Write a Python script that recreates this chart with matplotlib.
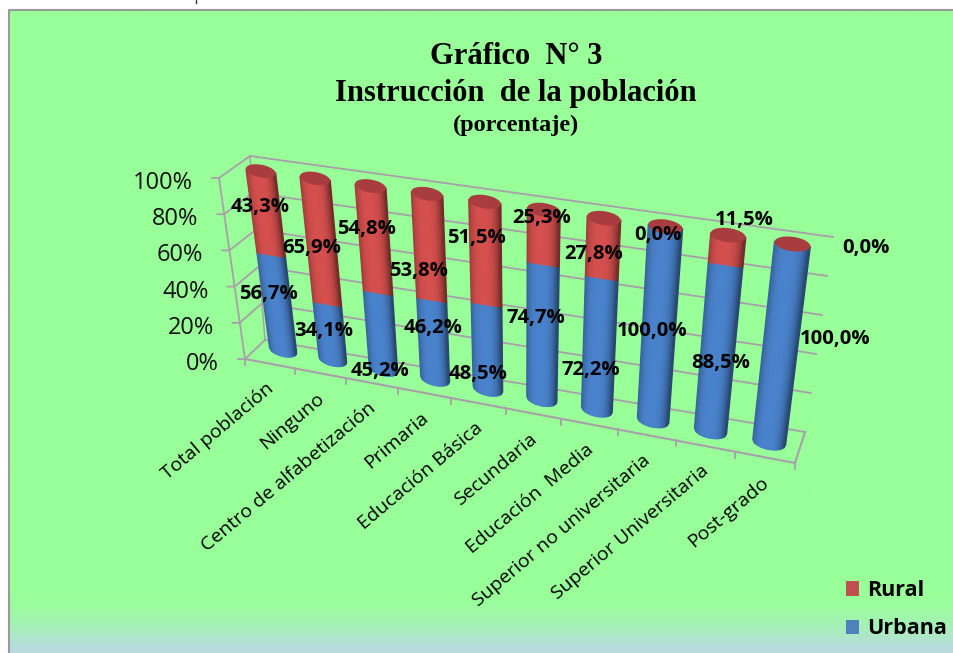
import numpy as np
import matplotlib
matplotlib.use('Agg')
import matplotlib.pyplot as plt
from matplotlib.transforms import Transform
from matplotlib.patches import Rectangle

categories = ['Total población', 'Ninguno', 'Centro de alfabetización', 'Primaria', 'Educación Básica',
              'Secundaria', 'Educación  Media', 'Superior no universitaria', 'Superior Universitaria', 'Post-grado']
urbana = [56.7, 34.1, 45.2, 46.2, 48.5, 74.7, 72.2, 100.0, 88.5, 100.0]
rural = [43.3, 65.9, 54.8, 53.8, 51.5, 25.3, 27.8, 0.0, 11.5, 0.0]
y_ticks = [0, 20, 40, 60, 80, 100]

# where the value labels sit, in pixels
urbana_label_xy = [(268, 294), (324, 331), (380, 371), (433, 328), (478, 374),
                   (536, 318), (591, 370), (652, 331), (721, 363), (835, 339)]
rural_label_xy = [(260, 207), (312, 248), (367, 229), (419, 271), (476, 238),
                  (542, 218), (594, 254), (658, 235), (744, 220), (866, 248)]
# upper right end of the category labels, as offset from the floor edge
label_offset = (-4, -16)

PERSP = 1.11
RED = np.array([208, 78, 76]) / 255
BLUE = np.array([72, 128, 200]) / 255
CAP = '#a83c3e'
GRID = '#a89fa8'


class ChartProj(Transform):
    # (category, percent) -> picture pixels, for one plane of the 3d box
    input_dims = 2
    output_dims = 2
    is_affine = False
    has_inverse = False

    def __init__(self, bl, br, tl, tr):
        super().__init__()
        self.bl, self.br, self.tl, self.tr = [np.array(p, float) for p in (bl, br, tl, tr)]

    def transform_non_affine(self, values):
        values = np.asarray(values, float)
        u = (values[:, 0] + 0.5) / 10
        u = (u / (u + (1 - u) * PERSP))[:, None]
        v = values[:, 1][:, None] / 100
        base = self.bl + (self.br - self.bl) * u
        top = self.tl + (self.tr - self.tl) * u
        return base + (top - base) * v


fig = plt.figure(figsize=(9.54, 6.53), dpi=100, facecolor='white')
ax = fig.add_axes([0, 0, 1, 1])
ax.set_xlim(0, 954)
ax.set_ylim(653, 0)
ax.set_autoscale_on(False)
ax.axis('off')

# background with the bluish fade at the bottom
grad = np.zeros((60, 2, 3))
fade = np.clip((np.linspace(0, 653, 60) - 600) / 53, 0, 1)[:, None, None] ** 1.5
grad[:] = np.array([153, 255, 153]) / 255 * (1 - fade) + np.array([184, 220, 222]) / 255 * fade
ax.imshow(grad, extent=(9, 954, 653, 10), aspect='auto', zorder=0, interpolation='bilinear')
ax.set_xlim(0, 954)
ax.set_ylim(653, 0)
ax.plot([9, 9, 954], [653, 10, 10], color='#9a9a9a', lw=1.5, zorder=1)
ax.plot([196, 196], [0, 3], color='#333333', lw=1, zorder=1)

back = ChartProj((265, 340), (805, 432), (250, 156), (833, 237))
front = ChartProj((245, 359), (795, 463), (219, 178), (825, 262))
bars = ChartProj((258.6, 345.4), (799, 447.7), (234, 167.3), (825, 248.5))

# walls and floor
for val in y_ticks:
    ax.plot([-0.5, 9.5], [val, val], transform=back + ax.transData, color=GRID, lw=1.3, zorder=2)
    p0 = front.transform(np.array([[-0.5, val]]))[0]
    p1 = back.transform(np.array([[-0.5, val]]))[0]
    ax.plot([p0[0] - 7, p0[0], p1[0]], [p0[1], p0[1], p1[1]], color=GRID, lw=1.3, zorder=2)
    ax.text(p0[0] - 26, p0[1] + 5, f'{val}%', ha='right', va='center', fontsize=17,
            family='Open Sans', color='#111111', zorder=6)
ax.plot([-0.5, -0.5], [0, 100], transform=back + ax.transData, color=GRID, lw=1.1, zorder=2)
ax.plot([-0.5, -0.5], [0, 100], transform=front + ax.transData, color=GRID, lw=1.3, zorder=2)
ax.plot([-0.5, 9.5], [0, 0], transform=front + ax.transData, color=GRID, lw=1.5, zorder=2)
p0 = front.transform(np.array([[9.5, 0]]))[0]
p1 = back.transform(np.array([[9.5, 0]]))[0]
ax.plot([p0[0], p1[0]], [p0[1], p1[1]], color=GRID, lw=1.5, zorder=2)
for i in range(11):
    p = front.transform(np.array([[i - 0.5, 0]]))[0]
    ax.plot([p[0], p[0]], [p[1], p[1] + 6], color=GRID, lw=1.3, zorder=2)

# cylinders, built from thin shaded strips
hw = 0.275
depth = 3.6
edges = np.linspace(-1, 1, 25)
bar_trans = bars + ax.transData
for i in range(len(categories)):
    # the seam shows on the front of the cylinder, so a little under the real value
    seam = urbana[i] - depth
    for s0, s1 in zip(edges[:-1], edges[1:]):
        mid = (s0 + s1) / 2
        shade = 1.02 - 0.38 * abs(mid + 0.1) ** 3
        x = [i + hw * s0, i + hw * s1, i + hw * s1, i + hw * s0]
        low0 = -depth * np.sqrt(max(0, 1 - s0 ** 2))
        low1 = -depth * np.sqrt(max(0, 1 - s1 ** 2))
        col = np.clip(BLUE * shade, 0, 1)
        top = seam if rural[i] > 0 else 100
        ax.fill(x, [low0, low1, top, top], transform=bar_trans, facecolor=col, edgecolor=col,
                lw=1.0, zorder=3)
        if rural[i] > 0:
            col = np.clip(RED * shade, 0, 1)
            ax.fill(x, [seam, seam, 100, 100], transform=bar_trans, facecolor=col, edgecolor=col,
                    lw=1.0, zorder=3)
    t = np.linspace(0, 2 * np.pi, 60)
    ax.fill(i + hw * np.cos(t), 100 + depth * np.sin(t), transform=bar_trans, color=CAP, lw=0, zorder=4)

# value labels
for val, (x, y) in zip(urbana, urbana_label_xy):
    ax.text(x, y, f'{val:.1f}%'.replace('.', ','), ha='center', va='center', fontsize=14.6,
            fontweight='bold', family='Open Sans', color='black', zorder=7)
for val, (x, y) in zip(rural, rural_label_xy):
    ax.text(x, y, f'{val:.1f}%'.replace('.', ','), ha='center', va='center', fontsize=14.6,
            fontweight='bold', family='Open Sans', color='black', zorder=7)

# category labels
for i, name in enumerate(categories):
    ax.annotate(name, xy=(i, 0), xycoords=front + ax.transData, xytext=label_offset,
                textcoords='offset pixels', ha='right', va='top', rotation=40, rotation_mode='anchor',
                fontsize=14, family='Open Sans', color='black', zorder=6)

# titles
ax.text(516, 56, 'Gráfico  N° 3', ha='center', va='center', fontsize=22, fontweight='bold',
        family='Liberation Serif', zorder=6)
ax.text(516, 94, 'Instrucción  de la población', ha='center', va='center', fontsize=22, fontweight='bold',
        family='Liberation Serif', zorder=6)
ax.text(516, 125, '(porcentaje)', ha='center', va='center', fontsize=17.5, fontweight='bold',
        family='Liberation Serif', zorder=6)

# legend
ax.add_patch(Rectangle((846, 581), 13, 15, facecolor='#c0504d', edgecolor='none', zorder=6))
ax.add_patch(Rectangle((846, 620), 13, 14, facecolor='#4f81bd', edgecolor='none', zorder=6))
ax.text(867, 590, 'Rural', ha='left', va='center', fontsize=15.5, fontweight='bold', family='Open Sans', zorder=6)
ax.text(867, 628, 'Urbana', ha='left', va='center', fontsize=15.5, fontweight='bold', family='Open Sans', zorder=6)

fig.savefig('out.png', dpi=100)
